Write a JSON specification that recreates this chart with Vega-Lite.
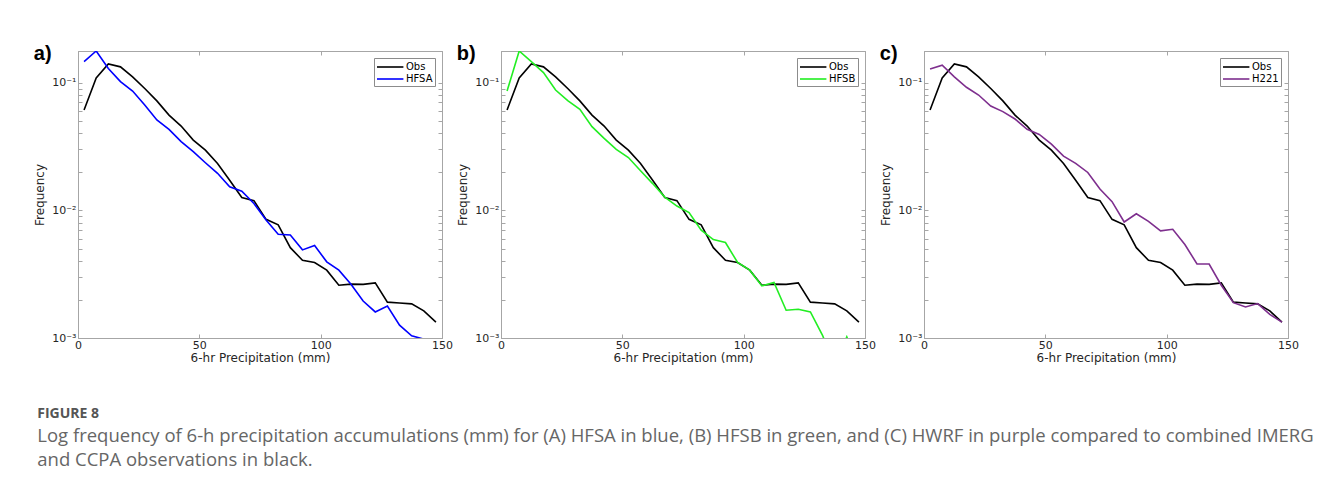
{
  "$schema": "https://vega.github.io/schema/vega-lite/v6.json",
  "background": "white",
  "padding": {"left": 33, "top": 43, "right": 5, "bottom": 5},
  "autosize": {"type": "pad"},
  "config": {
    "view": {"stroke": "#a6a6a6"},
    "axis": {
      "domainColor": "#a6a6a6", "tickColor": "#a6a6a6", "grid": false,
      "labelFont": "DejaVu Sans", "labelFontSize": 11, "labelColor": "#262626",
      "titleFont": "DejaVu Sans", "titleFontSize": 12, "titleColor": "#262626", "titleFontWeight": "normal",
      "labelFlush": false, "labelOverlap": false
    },
    "legend": {
      "title": null, "orient": "top-right", "offset": 7, "padding": 2,
      "strokeColor": "#8c8c8c", "fillColor": "white", "symbolType": "M-1,0H3.4",
      "symbolSize": 144, "symbolStrokeWidth": 1.6, "labelFont": "DejaVu Sans",
      "labelFontSize": 10, "labelColor": "#000000", "rowPadding": 0, "labelOffset": 16
    },
    "title": {"font": "Liberation Sans", "fontSize": 20, "fontWeight": "bold", "color": "#000000"}
  },
  "title": {
    "text": "FIGURE 8",
    "subtitle": ["Log frequency of 6-h precipitation accumulations (mm) for (A) HFSA in blue, (B) HFSB in green, and (C) HWRF in purple compared to combined IMERG", "and CCPA observations in black."],
    "orient": "bottom", "anchor": "start", "frame": "bounds",
    "font": "Open Sans", "fontSize": 14, "fontWeight": "bold", "color": "#555555",
    "subtitleFont": "Open Sans", "subtitleFontSize": 18.5, "subtitleColor": "#666666",
    "subtitleLineHeight": 24, "subtitlePadding": 6, "offset": 40, "dx": 4
  },
  "datasets": {
    "d": [
      {"series": "Obs", "x": 2.5, "freq": 0.061},
      {"series": "Obs", "x": 7.5, "freq": 0.109},
      {"series": "Obs", "x": 12.5, "freq": 0.140},
      {"series": "Obs", "x": 17.5, "freq": 0.133},
      {"series": "Obs", "x": 22.5, "freq": 0.111},
      {"series": "Obs", "x": 27.5, "freq": 0.090},
      {"series": "Obs", "x": 32.5, "freq": 0.072},
      {"series": "Obs", "x": 37.5, "freq": 0.0557},
      {"series": "Obs", "x": 42.5, "freq": 0.0457},
      {"series": "Obs", "x": 47.5, "freq": 0.0355},
      {"series": "Obs", "x": 52.5, "freq": 0.0296},
      {"series": "Obs", "x": 57.5, "freq": 0.0233},
      {"series": "Obs", "x": 62.5, "freq": 0.0172},
      {"series": "Obs", "x": 67.5, "freq": 0.0126},
      {"series": "Obs", "x": 72.5, "freq": 0.0119},
      {"series": "Obs", "x": 77.5, "freq": 0.0085},
      {"series": "Obs", "x": 82.5, "freq": 0.0077},
      {"series": "Obs", "x": 87.5, "freq": 0.0051},
      {"series": "Obs", "x": 92.5, "freq": 0.00406},
      {"series": "Obs", "x": 97.5, "freq": 0.0039},
      {"series": "Obs", "x": 102.5, "freq": 0.0034},
      {"series": "Obs", "x": 107.5, "freq": 0.00259},
      {"series": "Obs", "x": 112.5, "freq": 0.00264},
      {"series": "Obs", "x": 117.5, "freq": 0.00263},
      {"series": "Obs", "x": 122.5, "freq": 0.0027},
      {"series": "Obs", "x": 127.5, "freq": 0.00191},
      {"series": "Obs", "x": 132.5, "freq": 0.00188},
      {"series": "Obs", "x": 137.5, "freq": 0.00185},
      {"series": "Obs", "x": 142.5, "freq": 0.00163},
      {"series": "Obs", "x": 147.5, "freq": 0.00133},
      {"series": "HFSA", "x": 2.5, "freq": 0.146},
      {"series": "HFSA", "x": 7.5, "freq": 0.177},
      {"series": "HFSA", "x": 12.5, "freq": 0.129},
      {"series": "HFSA", "x": 17.5, "freq": 0.102},
      {"series": "HFSA", "x": 22.5, "freq": 0.086},
      {"series": "HFSA", "x": 27.5, "freq": 0.0669},
      {"series": "HFSA", "x": 32.5, "freq": 0.051},
      {"series": "HFSA", "x": 37.5, "freq": 0.0431},
      {"series": "HFSA", "x": 42.5, "freq": 0.0345},
      {"series": "HFSA", "x": 47.5, "freq": 0.0288},
      {"series": "HFSA", "x": 52.5, "freq": 0.0236},
      {"series": "HFSA", "x": 57.5, "freq": 0.0195},
      {"series": "HFSA", "x": 62.5, "freq": 0.0153},
      {"series": "HFSA", "x": 67.5, "freq": 0.0141},
      {"series": "HFSA", "x": 72.5, "freq": 0.0113},
      {"series": "HFSA", "x": 77.5, "freq": 0.0084},
      {"series": "HFSA", "x": 82.5, "freq": 0.0065},
      {"series": "HFSA", "x": 87.5, "freq": 0.0064},
      {"series": "HFSA", "x": 92.5, "freq": 0.0049},
      {"series": "HFSA", "x": 97.5, "freq": 0.0053},
      {"series": "HFSA", "x": 102.5, "freq": 0.00395},
      {"series": "HFSA", "x": 107.5, "freq": 0.0034},
      {"series": "HFSA", "x": 112.5, "freq": 0.00264},
      {"series": "HFSA", "x": 117.5, "freq": 0.00195},
      {"series": "HFSA", "x": 122.5, "freq": 0.0016},
      {"series": "HFSA", "x": 127.5, "freq": 0.00178},
      {"series": "HFSA", "x": 132.5, "freq": 0.00126},
      {"series": "HFSA", "x": 137.5, "freq": 0.00104},
      {"series": "HFSA", "x": 142.5, "freq": 0.00098},
      {"series": "HFSB", "x": 2.5, "freq": 0.086},
      {"series": "HFSB", "x": 7.5, "freq": 0.177},
      {"series": "HFSB", "x": 12.5, "freq": 0.146},
      {"series": "HFSB", "x": 17.5, "freq": 0.120},
      {"series": "HFSB", "x": 22.5, "freq": 0.0876},
      {"series": "HFSB", "x": 27.5, "freq": 0.0722},
      {"series": "HFSB", "x": 32.5, "freq": 0.0618},
      {"series": "HFSB", "x": 37.5, "freq": 0.0452},
      {"series": "HFSB", "x": 42.5, "freq": 0.0366},
      {"series": "HFSB", "x": 47.5, "freq": 0.030},
      {"series": "HFSB", "x": 52.5, "freq": 0.0259},
      {"series": "HFSB", "x": 57.5, "freq": 0.0204},
      {"series": "HFSB", "x": 62.5, "freq": 0.0162},
      {"series": "HFSB", "x": 67.5, "freq": 0.0127},
      {"series": "HFSB", "x": 72.5, "freq": 0.0108},
      {"series": "HFSB", "x": 77.5, "freq": 0.0096},
      {"series": "HFSB", "x": 82.5, "freq": 0.0070},
      {"series": "HFSB", "x": 87.5, "freq": 0.0059},
      {"series": "HFSB", "x": 92.5, "freq": 0.0056},
      {"series": "HFSB", "x": 97.5, "freq": 0.0039},
      {"series": "HFSB", "x": 102.5, "freq": 0.0034},
      {"series": "HFSB", "x": 107.5, "freq": 0.00256},
      {"series": "HFSB", "x": 112.5, "freq": 0.00272},
      {"series": "HFSB", "x": 117.5, "freq": 0.00165},
      {"series": "HFSB", "x": 122.5, "freq": 0.00168},
      {"series": "HFSB", "x": 127.5, "freq": 0.0016},
      {"series": "HFSB", "x": 132.5, "freq": 0.00105},
      {"series": "HFSB", "x": 137.5, "freq": 0.0006},
      {"series": "HFSB", "x": 142.5, "freq": 0.00102},
      {"series": "HFSB", "x": 147.5, "freq": 0.0006},
      {"series": "H221", "x": 2.5, "freq": 0.128},
      {"series": "H221", "x": 7.5, "freq": 0.137},
      {"series": "H221", "x": 12.5, "freq": 0.111},
      {"series": "H221", "x": 17.5, "freq": 0.092},
      {"series": "H221", "x": 22.5, "freq": 0.080},
      {"series": "H221", "x": 27.5, "freq": 0.0656},
      {"series": "H221", "x": 32.5, "freq": 0.0593},
      {"series": "H221", "x": 37.5, "freq": 0.0519},
      {"series": "H221", "x": 42.5, "freq": 0.0431},
      {"series": "H221", "x": 47.5, "freq": 0.0393},
      {"series": "H221", "x": 52.5, "freq": 0.0330},
      {"series": "H221", "x": 57.5, "freq": 0.0266},
      {"series": "H221", "x": 62.5, "freq": 0.0233},
      {"series": "H221", "x": 67.5, "freq": 0.0198},
      {"series": "H221", "x": 72.5, "freq": 0.0147},
      {"series": "H221", "x": 77.5, "freq": 0.0117},
      {"series": "H221", "x": 82.5, "freq": 0.0081},
      {"series": "H221", "x": 87.5, "freq": 0.0094},
      {"series": "H221", "x": 92.5, "freq": 0.0082},
      {"series": "H221", "x": 97.5, "freq": 0.0069},
      {"series": "H221", "x": 102.5, "freq": 0.0071},
      {"series": "H221", "x": 107.5, "freq": 0.0054},
      {"series": "H221", "x": 112.5, "freq": 0.0038},
      {"series": "H221", "x": 117.5, "freq": 0.0038},
      {"series": "H221", "x": 122.5, "freq": 0.00259},
      {"series": "H221", "x": 127.5, "freq": 0.00189},
      {"series": "H221", "x": 132.5, "freq": 0.00175},
      {"series": "H221", "x": 137.5, "freq": 0.00186},
      {"series": "H221", "x": 142.5, "freq": 0.00153},
      {"series": "H221", "x": 147.5, "freq": 0.00133}
    ]
  },
  "spacing": 59,
  "bounds": "flush",
  "resolve": {"scale": {"color": "independent"}, "legend": {"color": "independent"}},
  "hconcat": [
    {
      "width": 364, "height": 287,
      "title": {"text": "a)", "anchor": "start", "frame": "bounds", "baseline": "alphabetic", "offset": 0, "dy": 29},
      "data": {"name": "d"},
      "transform": [{"filter": {"field": "series", "oneOf": ["Obs", "HFSA"]}}],
      "layer": [
        {
          "mark": {"type": "line", "clip": true, "strokeWidth": 1.6},
          "encoding": {
            "x": {"field": "x", "type": "quantitative", "scale": {"domain": [0, 150], "nice": false},
                  "axis": {"orient": "bottom", "values": [0, 50, 100, 150], "title": "6-hr Precipitation (mm)", "tickSize": -4, "labelPadding": 5, "titlePadding": 2}},
            "y": {"field": "freq", "type": "quantitative", "scale": {"type": "log", "domain": [0.001, 0.177], "nice": false},
                  "axis": {"orient": "left", "values": [0.001, 0.002, 0.003, 0.004, 0.005, 0.006, 0.007, 0.008, 0.009, 0.01, 0.02, 0.03, 0.04, 0.05, 0.06, 0.07, 0.08, 0.09, 0.1],
                           "labelExpr": "datum.value == 0.1 ? '10⁻¹' : datum.value == 0.01 ? '10⁻²' : datum.value == 0.001 ? '10⁻³' : ''",
                           "title": "Frequency", "tickSize": -4, "labelPadding": 6, "titlePadding": 5}},
            "color": {"field": "series", "type": "nominal", "scale": {"domain": ["Obs", "HFSA"], "range": ["#000000", "#0000ff"]}}
          }
        },
        {
          "mark": {"type": "line", "opacity": 0},
          "encoding": {
            "x": {"field": "x", "type": "quantitative", "scale": {"domain": [0, 150], "nice": false},
                  "axis": {"orient": "top", "values": [0, 50, 100, 150], "labels": false, "title": null, "tickSize": -4}},
            "y": {"field": "freq", "type": "quantitative", "scale": {"type": "log", "domain": [0.001, 0.177], "nice": false},
                  "axis": {"orient": "right", "values": [0.001, 0.002, 0.003, 0.004, 0.005, 0.006, 0.007, 0.008, 0.009, 0.01, 0.02, 0.03, 0.04, 0.05, 0.06, 0.07, 0.08, 0.09, 0.1], "labels": false, "title": null, "tickSize": -4}}
          }
        }
      ],
      "resolve": {"axis": {"x": "independent", "y": "independent"}}
    },
    {
      "width": 364, "height": 287,
      "title": {"text": "b)", "anchor": "start", "frame": "bounds", "baseline": "alphabetic", "offset": 0, "dy": 29},
      "data": {"name": "d"},
      "transform": [{"filter": {"field": "series", "oneOf": ["Obs", "HFSB"]}}],
      "layer": [
        {
          "mark": {"type": "line", "clip": true, "strokeWidth": 1.6},
          "encoding": {
            "x": {"field": "x", "type": "quantitative", "scale": {"domain": [0, 150], "nice": false},
                  "axis": {"orient": "bottom", "values": [0, 50, 100, 150], "title": "6-hr Precipitation (mm)", "tickSize": -4, "labelPadding": 5, "titlePadding": 2}},
            "y": {"field": "freq", "type": "quantitative", "scale": {"type": "log", "domain": [0.001, 0.177], "nice": false},
                  "axis": {"orient": "left", "values": [0.001, 0.002, 0.003, 0.004, 0.005, 0.006, 0.007, 0.008, 0.009, 0.01, 0.02, 0.03, 0.04, 0.05, 0.06, 0.07, 0.08, 0.09, 0.1],
                           "labelExpr": "datum.value == 0.1 ? '10⁻¹' : datum.value == 0.01 ? '10⁻²' : datum.value == 0.001 ? '10⁻³' : ''",
                           "title": "Frequency", "tickSize": -4, "labelPadding": 6, "titlePadding": 5}},
            "color": {"field": "series", "type": "nominal", "scale": {"domain": ["Obs", "HFSB"], "range": ["#000000", "#22ee22"]}}
          }
        },
        {
          "mark": {"type": "line", "opacity": 0},
          "encoding": {
            "x": {"field": "x", "type": "quantitative", "scale": {"domain": [0, 150], "nice": false},
                  "axis": {"orient": "top", "values": [0, 50, 100, 150], "labels": false, "title": null, "tickSize": -4}},
            "y": {"field": "freq", "type": "quantitative", "scale": {"type": "log", "domain": [0.001, 0.177], "nice": false},
                  "axis": {"orient": "right", "values": [0.001, 0.002, 0.003, 0.004, 0.005, 0.006, 0.007, 0.008, 0.009, 0.01, 0.02, 0.03, 0.04, 0.05, 0.06, 0.07, 0.08, 0.09, 0.1], "labels": false, "title": null, "tickSize": -4}}
          }
        }
      ],
      "resolve": {"axis": {"x": "independent", "y": "independent"}}
    },
    {
      "width": 364, "height": 287,
      "title": {"text": "c)", "anchor": "start", "frame": "bounds", "baseline": "alphabetic", "offset": 0, "dy": 29},
      "data": {"name": "d"},
      "transform": [{"filter": {"field": "series", "oneOf": ["Obs", "H221"]}}],
      "layer": [
        {
          "mark": {"type": "line", "clip": true, "strokeWidth": 1.6},
          "encoding": {
            "x": {"field": "x", "type": "quantitative", "scale": {"domain": [0, 150], "nice": false},
                  "axis": {"orient": "bottom", "values": [0, 50, 100, 150], "title": "6-hr Precipitation (mm)", "tickSize": -4, "labelPadding": 5, "titlePadding": 2}},
            "y": {"field": "freq", "type": "quantitative", "scale": {"type": "log", "domain": [0.001, 0.177], "nice": false},
                  "axis": {"orient": "left", "values": [0.001, 0.002, 0.003, 0.004, 0.005, 0.006, 0.007, 0.008, 0.009, 0.01, 0.02, 0.03, 0.04, 0.05, 0.06, 0.07, 0.08, 0.09, 0.1],
                           "labelExpr": "datum.value == 0.1 ? '10⁻¹' : datum.value == 0.01 ? '10⁻²' : datum.value == 0.001 ? '10⁻³' : ''",
                           "title": "Frequency", "tickSize": -4, "labelPadding": 6, "titlePadding": 5}},
            "color": {"field": "series", "type": "nominal", "scale": {"domain": ["Obs", "H221"], "range": ["#000000", "#7e2f8e"]}}
          }
        },
        {
          "mark": {"type": "line", "opacity": 0},
          "encoding": {
            "x": {"field": "x", "type": "quantitative", "scale": {"domain": [0, 150], "nice": false},
                  "axis": {"orient": "top", "values": [0, 50, 100, 150], "labels": false, "title": null, "tickSize": -4}},
            "y": {"field": "freq", "type": "quantitative", "scale": {"type": "log", "domain": [0.001, 0.177], "nice": false},
                  "axis": {"orient": "right", "values": [0.001, 0.002, 0.003, 0.004, 0.005, 0.006, 0.007, 0.008, 0.009, 0.01, 0.02, 0.03, 0.04, 0.05, 0.06, 0.07, 0.08, 0.09, 0.1], "labels": false, "title": null, "tickSize": -4}}
          }
        }
      ],
      "resolve": {"axis": {"x": "independent", "y": "independent"}}
    }
  ]
}
